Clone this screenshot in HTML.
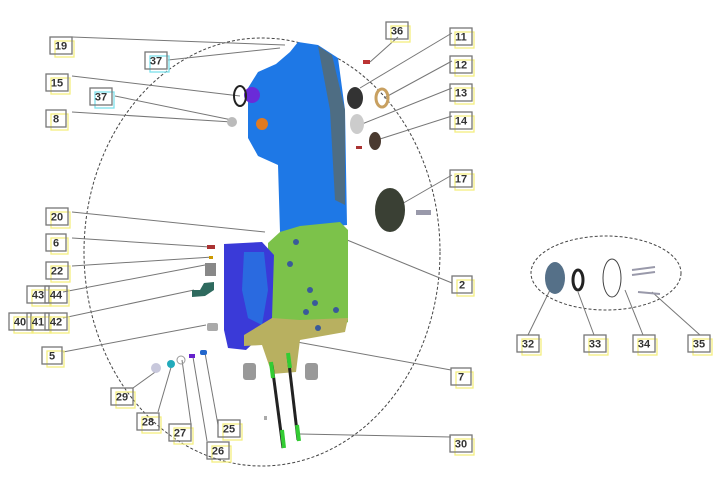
<!DOCTYPE html>
<html><head><style>
body{margin:0;background:#fff;width:725px;height:504px;overflow:hidden}
svg{display:block}
text{font-family:"Liberation Sans",sans-serif;font-size:11px;font-weight:bold;fill:#333}
</style></head><body>
<svg width="725" height="504" viewBox="0 0 725 504">
<ellipse cx="262" cy="252" rx="178" ry="214" fill="none" stroke="#444" stroke-width="1" stroke-dasharray="3,2"/>
<ellipse cx="606" cy="273" rx="75" ry="37" fill="none" stroke="#444" stroke-width="1" stroke-dasharray="3,2"/>

<g stroke="#777" stroke-width="1" fill="none">
<polyline points="72,37 285,45"/>
<polyline points="168,60 280,48"/>
<polyline points="72,76 240,96"/>
<polyline points="115,96 232,120"/>
<polyline points="72,112 232,122"/>
<polyline points="398,37 370,62"/>
<polyline points="452,33 360,88"/>
<polyline points="452,61 384,98"/>
<polyline points="452,88 362,124"/>
<polyline points="452,116 380,139"/>
<polyline points="452,175 400,205"/>
<polyline points="72,212 265,232"/>
<polyline points="72,238 210,247"/>
<polyline points="72,266 213,257"/>
<polyline points="63,292 205,265"/>
<polyline points="63,318 194,290"/>
<polyline points="63,352 206,325"/>
<polyline points="452,283 330,233"/>
<polyline points="451,370 297,342"/>
<polyline points="451,437 300,434"/>
<polyline points="133,388 158,370"/>
<polyline points="158,412 172,364"/>
<polyline points="191,424 182,360"/>
<polyline points="207,441 193,357"/>
<polyline points="218,425 205,353"/>
<polyline points="528,335 550,290"/>
<polyline points="594,335 578,292"/>
<polyline points="643,335 625,290"/>
<polyline points="700,335 652,292"/>
</g>

<!-- main housing -->
<path d="M298,42 L318,45 L338,58 L345,110 L347,225 L280,232 L278,165 L258,156 L248,138 L248,88 L258,72 L276,64 L290,52 Z" fill="#1e78e6"/>
<path d="M318,46 L332,55 L345,110 L345,205 L335,200 L330,110 Z" fill="#5a6a6a" opacity="0.8"/>
<path d="M280,232 L300,226 L340,222 L348,230 L348,322 L330,333 L290,334 L268,325 L268,243 Z" fill="#7cc24a"/>
<path d="M224,244 L262,242 L274,255 L272,318 L262,335 L246,350 L228,348 L224,330 Z" fill="#3a3ad8"/>
<path d="M244,252 L264,252 L268,290 L262,325 L248,318 L242,290 Z" fill="#2a6ae0"/>
<path d="M244,335 L272,318 L300,320 L348,318 L345,332 L300,340 L296,372 L272,374 L262,345 L244,346 Z" fill="#b8b060"/>
<circle cx="252" cy="95" r="8" fill="#6a2bd8"/>
<circle cx="262" cy="124" r="6" fill="#e07a20"/>
<g fill="#3a5a9a"><circle cx="296" cy="242" r="3"/><circle cx="290" cy="264" r="3"/><circle cx="310" cy="290" r="3"/><circle cx="315" cy="303" r="3"/><circle cx="306" cy="312" r="3"/><circle cx="336" cy="310" r="3"/><circle cx="318" cy="328" r="3"/></g>
<!-- rods -->
<line x1="272" y1="365" x2="283" y2="448" stroke="#222" stroke-width="3"/>
<line x1="288" y1="355" x2="298" y2="440" stroke="#222" stroke-width="3"/>
<line x1="282" y1="430" x2="284" y2="448" stroke="#3c3" stroke-width="4"/>
<line x1="297" y1="425" x2="299" y2="441" stroke="#3c3" stroke-width="4"/>
<line x1="271" y1="362" x2="273" y2="378" stroke="#3c3" stroke-width="4"/>
<line x1="288" y1="353" x2="290" y2="368" stroke="#3c3" stroke-width="4"/>
<rect x="243" y="363" width="13" height="17" rx="3" fill="#999"/>
<rect x="305" y="363" width="13" height="17" rx="3" fill="#999"/>

<ellipse cx="240" cy="96" rx="6" ry="10" fill="none" stroke="#222" stroke-width="2"/>
<circle cx="232" cy="122" r="5" fill="#bbb"/>
<rect x="363" y="60" width="7" height="4" fill="#b33"/>
<ellipse cx="355" cy="98" rx="8" ry="11" fill="#333"/>
<ellipse cx="382" cy="98" rx="6" ry="9" fill="none" stroke="#c8a060" stroke-width="3"/>
<ellipse cx="357" cy="124" rx="7" ry="10" fill="#ccc"/>
<ellipse cx="375" cy="141" rx="6" ry="9" fill="#4a3a30"/>
<rect x="356" y="146" width="6" height="3" fill="#a33"/>
<ellipse cx="390" cy="210" rx="15" ry="22" fill="#3a4034"/>
<rect x="416" y="210" width="15" height="5" fill="#99a"/>
<rect x="207" y="245" width="8" height="4" fill="#a33"/>
<rect x="209" y="256" width="4" height="3" fill="#c90"/>
<rect x="205" y="263" width="11" height="13" fill="#888"/>
<path d="M192,290 L200,290 L204,283 L214,282 L214,290 L205,296 L192,297 Z" fill="#2e6a5e"/>
<rect x="207" y="323" width="11" height="8" rx="2" fill="#aaa"/>
<circle cx="156" cy="368" r="5" fill="#c8c8dc"/>
<circle cx="171" cy="364" r="4" fill="#2ab"/>
<circle cx="181" cy="360" r="4" fill="none" stroke="#999"/>
<rect x="189" y="354" width="6" height="4" fill="#62c"/>
<rect x="200" y="350" width="7" height="5" rx="2" fill="#26c"/>
<rect x="264" y="416" width="3" height="4" fill="#aaa"/>
<ellipse cx="555" cy="278" rx="10" ry="16" fill="#557088"/>
<ellipse cx="578" cy="280" rx="5" ry="10" fill="none" stroke="#222" stroke-width="3"/>
<ellipse cx="612" cy="278" rx="9" ry="19" fill="none" stroke="#444" stroke-width="1"/>
<line x1="632" y1="270" x2="655" y2="267" stroke="#99a" stroke-width="2"/>
<line x1="632" y1="275" x2="655" y2="272" stroke="#99a" stroke-width="2"/>
<line x1="638" y1="292" x2="660" y2="294" stroke="#99a" stroke-width="2"/>
<g id="labels"></g>
</svg>
<script>
const L=[[50,37,"19",0],[145,52,"37",1],[46,74,"15",0],[90,88,"37",1],[46,110,"8",0],
[386,22,"36",0],[450,28,"11",0],[450,56,"12",0],[450,84,"13",0],[450,112,"14",0],[450,170,"17",0],
[46,208,"20",0],[46,234,"6",0],[46,262,"22",0],[27,286,"43",0],[45,286,"44",0],
[9,313,"40",0],[27,313,"41",0],[45,313,"42",0],[42,347,"5",0],[452,276,"2",0],
[451,368,"7",0],[450,435,"30",0],[111,388,"29",0],[137,413,"28",0],[169,424,"27",0],[207,442,"26",0],[218,420,"25",0],
[517,335,"32",0],[584,335,"33",0],[633,335,"34",0],[688,335,"35",0]];
let h='';
for(const [x,y,t,c] of L){const w=t.length>1?22:20;const col=c?'#7de0ec':'#f3ee80';
h+=`<rect x="${x+5}" y="${y+4}" width="${w-3}" height="16" fill="none" stroke="${col}" stroke-width="1.3"/>`;
h+=`<rect x="${x}" y="${y}" width="${w}" height="17" fill="none" stroke="#777" stroke-width="1.3"/>`;
h+=`<text x="${x+w/2}" y="${y+12.5}" text-anchor="middle">${t}</text>`;}
document.getElementById('labels').innerHTML=h;
</script>
</body></html>
